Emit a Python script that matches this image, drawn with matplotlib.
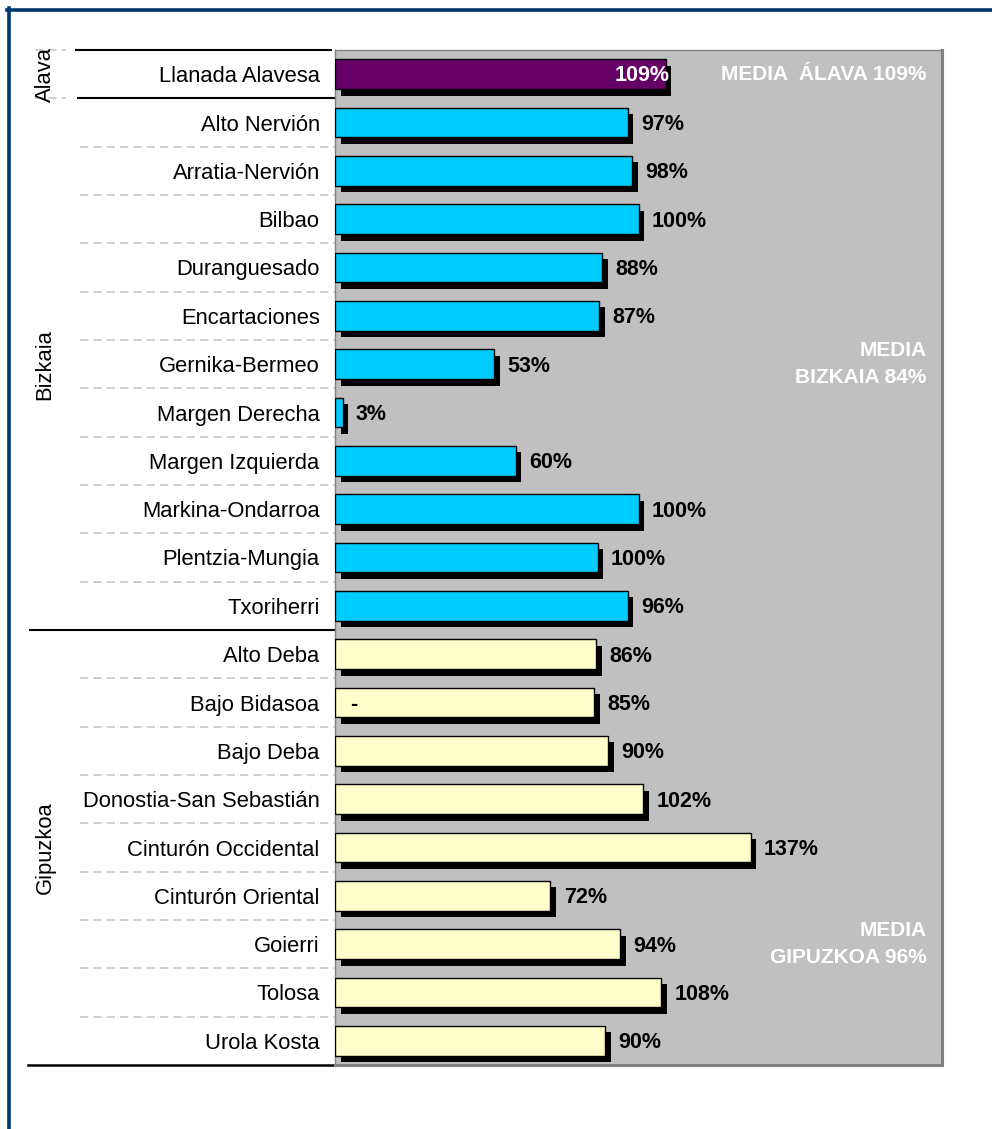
import numpy as np
import matplotlib
matplotlib.use('Agg')
import matplotlib.pyplot as plt
import matplotlib.patheffects as pe
from matplotlib.transforms import blended_transform_factory
from matplotlib.lines import Line2D

plt.rcParams['font.family'] = ['Liberation Sans', 'DejaVu Sans']

categories = ['Llanada Alavesa', 'Alto Nervión', 'Arratia-Nervión', 'Bilbao', 'Duranguesado',
              'Encartaciones', 'Gernika-Bermeo', 'Margen Derecha', 'Margen Izquierda',
              'Markina-Ondarroa', 'Plentzia-Mungia', 'Txoriherri', 'Alto Deba', 'Bajo Bidasoa',
              'Bajo Deba', 'Donostia-San Sebastián', 'Cinturón Occidental', 'Cinturón Oriental',
              'Goierri', 'Tolosa', 'Urola Kosta']
values = [109, 96.5, 98, 100, 88, 87, 52.5, 2.5, 59.5, 100, 86.5, 96.5,
          86, 85.5, 90, 101.5, 137, 71, 94, 107.5, 89]
value_labels = ['109%', '97%', '98%', '100%', '88%', '87%', '53%', '3%', '60%', '100%', '100%', '96%',
                '86%', '85%', '90%', '102%', '137%', '72%', '94%', '108%', '90%']
inner_labels = [''] * 13 + ['-'] + [''] * 7
groups = ['Alava', 'Bizkaia', 'Gipuzkoa']
group_sizes = [1, 11, 9]
group_colors = ['#660066', '#00CCFF', '#FFFFCC']
media_texts = ['MEDIA  ÁLAVA 109%', 'MEDIA\nBIZKAIA 84%', 'MEDIA\nGIPUZKOA 96%']
media_rows = [0, 6, 18]

W, H = 992, 1129
fig = plt.figure(figsize=(W / 100, H / 100), dpi=100)
fig.patch.set_facecolor('white')
ax = fig.add_axes([335 / W, 1 - 1065 / H, 607 / W, 1015 / H])
ax.set_facecolor('#C0C0C0')

n = len(categories)
y = np.arange(n)
colors = []
for g, s in enumerate(group_sizes):
    colors += [group_colors[g]] * s

shadow = [pe.SimplePatchShadow(offset=(4.0, -4.6), shadow_rgbFace='black', alpha=1.0), pe.Normal()]
bars = ax.barh(y, values, height=0.62, color=colors, edgecolor='black', linewidth=1.0, zorder=3)
for b in bars:
    b.set_path_effects(shadow)

ax.set_xlim(0, 200)
ax.set_ylim(n - 0.5, -0.5)
ax.set_xticks([])
ax.set_yticks(y)
ax.set_yticklabels(categories, fontsize=15.8)
ax.tick_params(axis='y', length=0, pad=11)

for sp in ax.spines.values():
    sp.set_color('#808080')
    sp.set_linewidth(1.0)
ax.spines['right'].set_linewidth(2.2)
ax.spines['bottom'].set_linewidth(2.2)

# value labels
for i, (v, lab) in enumerate(zip(values, value_labels)):
    if i == 0:
        ax.annotate(lab, (v, i), xytext=(3, -1), textcoords='offset points',
                    ha='right', va='center', fontsize=15.5, fontweight='bold', color='white', zorder=5)
    else:
        ax.annotate(lab, (v, i), xytext=(9.5, -1.5), textcoords='offset points',
                    ha='left', va='center', fontsize=15.5, fontweight='bold', color='black', zorder=5)
    if inner_labels[i]:
        ax.annotate(inner_labels[i], (0, i), xytext=(11, -1.5), textcoords='offset points',
                    ha='left', va='center', fontsize=15.5, fontweight='bold', color='black', zorder=5)

# media texts
for t, r in zip(media_texts, media_rows):
    ax.text(0.975, r, t, transform=blended_transform_factory(ax.transAxes, ax.transData),
            ha='right', va='center', fontsize=15, fontweight='bold', color='white',
            linespacing=1.5, zorder=5)

# lines in label area
tr = blended_transform_factory(ax.transAxes, ax.transData)
def ax_x(px):
    return (px - 335) / 607.0

starts = np.cumsum([0] + group_sizes)
for g in range(len(groups)):
    a, b = starts[g], starts[g + 1]
    for k in range(a, b - 1):
        ax.add_line(Line2D([ax_x(80), 0], [k + 0.5, k + 0.5], transform=tr, clip_on=False,
                           color='#C8C8C8', lw=1.2, ls=(0, (5, 3))))
    ax.text(ax_x(45), (a + b - 1) / 2.0, groups[g], transform=tr, rotation=90,
            ha='center', va='center', fontsize=15.8)

# group boundaries
ax.add_line(Line2D([ax_x(76), ax_x(331)], [-0.5, -0.5], transform=tr, clip_on=False, color='black', lw=1.5))
ax.add_line(Line2D([ax_x(35), ax_x(66)], [-0.5, -0.5], transform=tr, clip_on=False,
                   color='#C8C8C8', lw=1.2, ls=(0, (5, 3))))
ax.add_line(Line2D([ax_x(78), 0], [0.5, 0.5], transform=tr, clip_on=False, color='black', lw=1.5))
ax.add_line(Line2D([ax_x(35), ax_x(66)], [0.5, 0.5], transform=tr, clip_on=False,
                   color='#C8C8C8', lw=1.2, ls=(0, (5, 3))))
ax.add_line(Line2D([ax_x(30), 0], [11.5, 11.5], transform=tr, clip_on=False, color='black', lw=1.5))
ax.add_line(Line2D([ax_x(28), 0], [20.5, 20.5], transform=tr, clip_on=False, color='black', lw=1.8))

# outer frame (dark blue)
fig.add_artist(Line2D([8.5 / W, 8.5 / W], [0, 1 - 8 / H], transform=fig.transFigure, color='#003870', lw=2.6))
fig.add_artist(Line2D([7 / W, 1], [1 - 9.5 / H, 1 - 9.5 / H], transform=fig.transFigure, color='#003870', lw=2.6))

fig.savefig('out.png', dpi=100, facecolor='white')
